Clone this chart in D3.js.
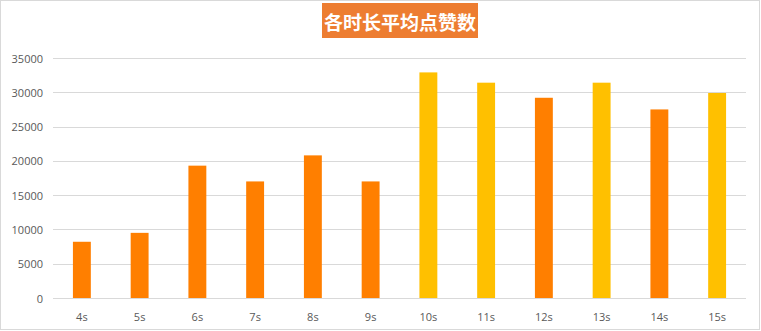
<!DOCTYPE html>
<html>
<head>
<meta charset="utf-8">
<script src="https://cdn.jsdelivr.net/npm/d3@7"></script>
<style>
  body { margin: 0; background: #fff; }
  svg text { font-family: "Open Sans", "Noto Sans", sans-serif; }
</style>
</head>
<body>
<svg id="chart" width="761" height="331"></svg>
<script>
// data
const categories = ["4s", "5s", "6s", "7s", "8s", "9s", "10s", "11s", "12s", "13s", "14s", "15s"];
const likes = [8200, 9500, 19300, 17000, 20800, 17000, 32900, 31400, 29200, 31400, 27500, 29900];
const barColors = ["#FF7F00", "#FF7F00", "#FF7F00", "#FF7F00", "#FF7F00", "#FF7F00",
                   "#FFC000", "#FFC000", "#FF7F00", "#FFC000", "#FF7F00", "#FFC000"];
const yTicks = [0, 5000, 10000, 15000, 20000, 25000, 30000, 35000];
const title = "各时长平均点赞数";

const svg = d3.select("svg#chart");
const width = +svg.attr("width");
const height = +svg.attr("height");
const margin = {left: 53, right: 15, top: 58, bottom: 33};

// outer frame
svg.append("rect")
    .attr("x", 0.5).attr("y", 0.5)
    .attr("width", width - 2).attr("height", height - 2)
    .attr("fill", "white")
    .attr("stroke", "#d9d9d9")

const x = d3.scaleBand()
    .domain(categories)
    .range([margin.left, width - margin.right])
    .paddingInner(0.69)
    .paddingOuter(0.345);

const y = d3.scaleLinear()
    .domain([0, 35000])
    .range([height - margin.bottom, margin.top]);

// gridlines
svg.append("g").selectAll("line")
    .data(yTicks)
    .join("line")
    .attr("x1", margin.left).attr("x2", width - margin.right)
    .attr("y1", d => Math.round(y(d)) + 0.5).attr("y2", d => Math.round(y(d)) + 0.5)
    .attr("stroke", "#d9d9d9").attr("stroke-width", 1)

// y labels
svg.append("g").selectAll("text")
    .data(yTicks)
    .join("text")
    .attr("x", 43).attr("y", d => y(d))
    .attr("text-anchor", "end").attr("dominant-baseline", "central")
    .attr("font-size", "11px").attr("fill", "#595959")
    .text(d => d)

// bars
svg.append("g").selectAll("rect")
    .data(likes)
    .join("rect")
    .attr("x", (d, i) => x(categories[i]))
    .attr("y", d => y(d))
    .attr("width", x.bandwidth())
    .attr("height", d => y(0) - y(d))
    .attr("fill", (d, i) => barColors[i])

// x labels
svg.append("g").selectAll("text")
    .data(categories)
    .join("text")
    .attr("x", d => x(d) + x.bandwidth() / 2)
    .attr("y", 316)
    .attr("text-anchor", "middle").attr("dominant-baseline", "central")
    .attr("font-size", "11px").attr("fill", "#595959")
    .text(d => d)

// title box
svg.append("rect")
    .attr("x", 322).attr("y", 3)
    .attr("width", 156).attr("height", 35)
    .attr("fill", "#ED7D31")
svg.append("text")
    .attr("x", 400).attr("y", 21)
    .attr("text-anchor", "middle").attr("dominant-baseline", "central")
    .attr("font-size", "19px").attr("font-weight", "bold")
    .attr("fill", "white")
    .style("font-family", "'Noto Sans CJK SC', sans-serif")
    .text(title)
</script>
</body>
</html>
